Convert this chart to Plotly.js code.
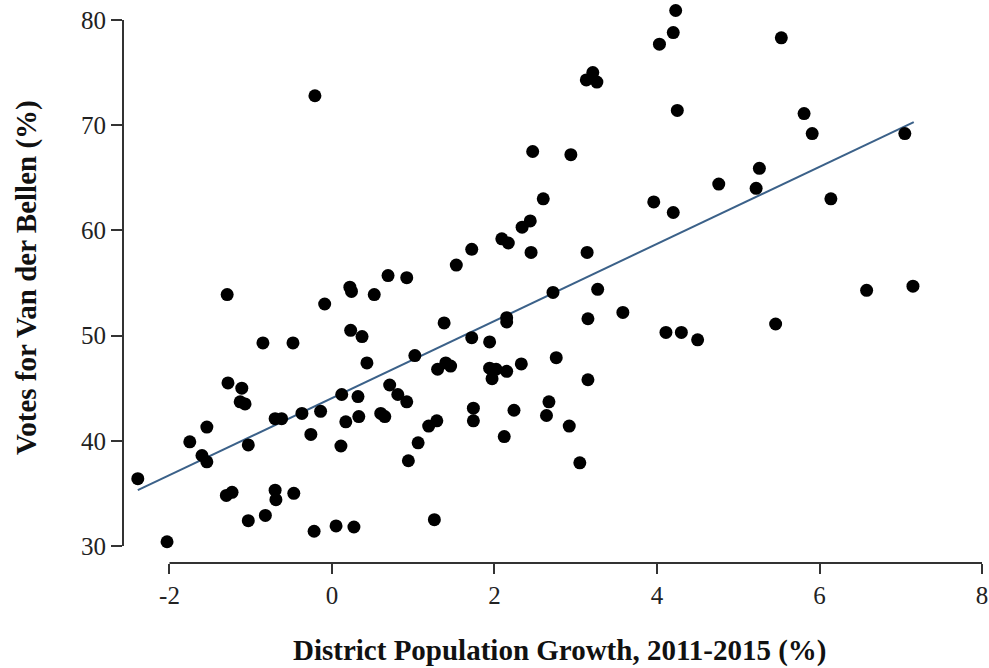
<!DOCTYPE html>
<html>
<head>
<meta charset="utf-8">
<script src="https://cdn.plot.ly/plotly-3.0.1.min.js"></script>
<style>html,body{margin:0;padding:0;background:#fff;}#chart{width:989px;height:668px;}</style>
</head>
<body>
<div id="chart"></div>
<script>
// District population growth 2011-2015 (%)
const growth = [
  -2.39, -2.03, -1.75, -1.60, -1.54, -1.54, -1.30, -1.23, -1.29, -1.28,
  -1.11, -1.13, -1.07, -1.03, -1.03, -0.85, -0.82, -0.70, -0.62, -0.70,
  -0.69, -0.48, -0.47, -0.37, -0.26, -0.22, -0.21, -0.14, -0.09, 0.05,
  0.11, 0.12, 0.17, 0.22, 0.24, 0.23, 0.27, 0.32, 0.33, 0.37,
  0.43, 0.52, 0.60, 0.65, 0.69, 0.71, 0.81, 0.92, 0.92, 0.94,
  1.02, 1.06, 1.19, 1.26, 1.29, 1.30, 1.38, 1.40, 1.46, 1.53,
  1.72, 1.72, 1.74, 1.74, 1.94, 1.94, 2.02, 1.97, 2.09, 2.17,
  2.15, 2.15, 2.15, 2.12, 2.24, 2.33, 2.34, 2.44, 2.45, 2.47,
  2.60, 2.64, 2.67, 2.72, 2.76, 2.92, 2.94, 3.05, 3.13, 3.21,
  3.26, 3.14, 3.15, 3.15, 3.27, 3.58, 3.96, 4.03, 4.20, 4.23,
  4.25, 4.20, 4.11, 4.30, 4.50, 4.76, 5.22, 5.26, 5.46, 5.53,
  5.81, 5.91, 6.14, 6.58, 7.05, 7.15
];
// Votes for Van der Bellen (%)
const votes = [
  36.4, 30.4, 39.9, 38.6, 38.0, 41.3, 34.8, 35.1, 53.9, 45.5,
  45.0, 43.7, 43.5, 39.6, 32.4, 49.3, 32.9, 42.1, 42.1, 35.3,
  34.4, 49.3, 35.0, 42.6, 40.6, 31.4, 72.8, 42.8, 53.0, 31.9,
  39.5, 44.4, 41.8, 54.6, 54.2, 50.5, 31.8, 44.2, 42.3, 49.9,
  47.4, 53.9, 42.6, 42.3, 55.7, 45.3, 44.4, 55.5, 43.7, 38.1,
  48.1, 39.8, 41.4, 32.5, 41.9, 46.8, 51.2, 47.4, 47.1, 56.7,
  58.2, 49.8, 43.1, 41.9, 49.4, 46.9, 46.8, 45.9, 59.2, 58.8,
  51.7, 51.3, 46.6, 40.4, 42.9, 47.3, 60.3, 60.9, 57.9, 67.5,
  63.0, 42.4, 43.7, 54.1, 47.9, 41.4, 67.2, 37.9, 74.3, 75.0,
  74.1, 57.9, 51.6, 45.8, 54.4, 52.2, 62.7, 77.7, 78.8, 80.9,
  71.4, 61.7, 50.3, 50.3, 49.6, 64.4, 64.0, 65.9, 51.1, 78.3,
  71.1, 69.2, 63.0, 54.3, 69.2, 54.7
];
// Fitted regression line end points
const fitX = [-2.39, 7.16];
const fitY = [35.3, 70.3];

const xTicks = [-2, 0, 2, 4, 6, 8];
const yTicks = [30, 40, 50, 60, 70, 80];
const xTitle = 'District Population Growth, 2011-2015 (%)';
const yTitle = 'Votes for Van der Bellen (%)';

const axisColor = '#333333';
const serif = '"Liberation Serif", "Times New Roman", serif';

const traces = [
  {
    x: fitX, y: fitY, type: 'scatter', mode: 'lines',
    line: {color: '#3b6189', width: 2}, hoverinfo: 'skip'
  },
  {
    x: growth, y: votes, type: 'scatter', mode: 'markers',
    marker: {color: '#000000', size: 13, line: {width: 0}}
  }
];

const layout = {
  width: 989, height: 668,
  margin: {l: 123, r: 0, t: 0, b: 105, pad: 0},
  paper_bgcolor: '#ffffff', plot_bgcolor: '#ffffff',
  showlegend: false,
  font: {family: serif, color: '#222222', size: 25},
  xaxis: {
    range: [-2.572, 8.086], tickvals: xTicks, ticktext: xTicks.map(String),
    ticks: 'outside', ticklen: 10, tickwidth: 2, tickcolor: axisColor,
    showgrid: false, zeroline: false, showline: false,
    tickfont: {family: serif, size: 25, color: '#222222'}
  },
  yaxis: {
    range: [28.38, 81.9], tickvals: yTicks, ticktext: yTicks.map(String),
    ticks: 'outside', ticklen: 11, tickwidth: 2, tickcolor: axisColor,
    showgrid: false, zeroline: false, showline: false,
    tickfont: {family: serif, size: 25, color: '#222222'}
  },
  shapes: [
    {type: 'line', xref: 'x', yref: 'paper', x0: xTicks[0], x1: xTicks[xTicks.length - 1], y0: 0, y1: 0,
     line: {color: axisColor, width: 2}},
    {type: 'line', xref: 'paper', yref: 'y', x0: 0, x1: 0, y0: yTicks[0], y1: yTicks[yTicks.length - 1],
     line: {color: axisColor, width: 2}}
  ],
  annotations: [
    {text: '<b>' + xTitle + '</b>', xref: 'paper', yref: 'paper', x: 0.5046, y: -0.1563,
     xanchor: 'center', yanchor: 'middle', showarrow: false,
     font: {family: serif, size: 29, color: '#111111'}},
    {text: '<b>' + yTitle + '</b>', xref: 'paper', yref: 'paper', x: -0.112, y: 0.5062,
     xanchor: 'center', yanchor: 'middle', showarrow: false, textangle: -90,
     font: {family: serif, size: 29, color: '#111111'}}
  ]
};

Plotly.newPlot('chart', traces, layout, {displayModeBar: false, staticPlot: true});
</script>
</body>
</html>
